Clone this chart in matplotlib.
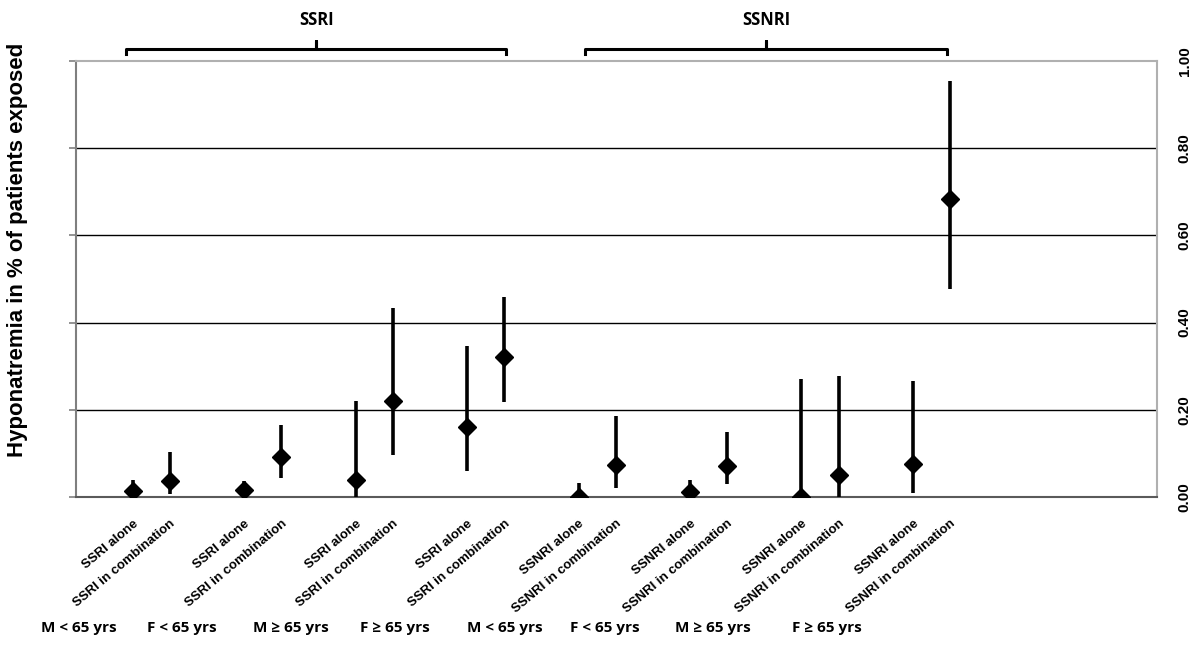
import matplotlib
matplotlib.use("Agg")
import matplotlib.pyplot as plt
import numpy as np

# data (proportion of patients with hyponatremia)
groups = ["M < 65 yrs", "F < 65 yrs", "M \u2265 65 yrs", "F \u2265 65 yrs",
          "M < 65 yrs", "F < 65 yrs", "M \u2265 65 yrs", "F \u2265 65 yrs"]
drugs = ["SSRI", "SSRI", "SSRI", "SSRI", "SSNRI", "SSNRI", "SSNRI", "SSNRI"]

alone_est = [0.014, 0.015, 0.038, 0.160, 0.000, 0.011, 0.000, 0.075]
alone_lo = [0.000, 0.000, 0.000, 0.060, 0.000, 0.000, 0.000, 0.010]
alone_hi = [0.040, 0.037, 0.221, 0.347, 0.033, 0.038, 0.271, 0.265]

combo_est = [0.036, 0.091, 0.221, 0.322, 0.073, 0.072, 0.050, 0.684]
combo_lo = [0.008, 0.044, 0.097, 0.218, 0.021, 0.030, 0.000, 0.477]
combo_hi = [0.103, 0.166, 0.433, 0.458, 0.186, 0.149, 0.278, 0.954]

yticks = [0.0, 0.2, 0.4, 0.6, 0.8, 1.0]

# build the point list: each group has "alone" then "in combination"
xs, est, lo, hi, labels = [], [], [], [], []
for g in range(len(groups)):
    for k, (e, l, h) in enumerate([(alone_est[g], alone_lo[g], alone_hi[g]),
                                   (combo_est[g], combo_lo[g], combo_hi[g])]):
        xs.append(3 * g + 1 + k)
        est.append(e)
        lo.append(l)
        hi.append(h)
        labels.append(drugs[g] + (" alone" if k == 0 else " in combination"))
xs = np.array(xs)
est = np.array(est)
lo = np.array(lo)
hi = np.array(hi)

fig = plt.figure(figsize=(12, 6.45), dpi=100)
ax = fig.add_axes([76/1200, 148/645, 1081/1200, 436/645])

ax.errorbar(xs, est, yerr=[est - lo, hi - est], fmt='D', color='black',
            ms=9.5, elinewidth=2.6, capsize=0, zorder=3)

ax.set_xlim(-0.53, 28.57)
ax.set_ylim(0, 1)
ax.set_yticks(yticks)
ax.set_yticklabels(["%.2f" % v for v in yticks])
for v in yticks[1:-1]:
    ax.axhline(v, color='black', lw=1, zorder=1)

ax.tick_params(axis='y', left=True, right=False, labelleft=False, labelright=True,
               direction='out', length=5, color='#808080', width=1.2, pad=10)
for t in ax.get_yticklabels():
    t.set_rotation(90)
    t.set_fontfamily('Liberation Sans')
    t.set_fontweight('bold')
    t.set_fontsize(11)
    t.set_va('center')

ax.set_xticks(xs)
ax.set_xticklabels(labels, rotation=40, ha='right', va='top', rotation_mode='anchor',
                   fontsize=9.5, fontweight='bold', family='Liberation Sans')
ax.tick_params(axis='x', length=0, pad=15)

ax.spines['left'].set_color('#7f7f7f')
ax.spines['bottom'].set_color('#5a5a5a')
ax.spines['top'].set_color('#b0b0b0')
ax.spines['right'].set_color('#b0b0b0')
for s in ax.spines.values():
    s.set_linewidth(1.5)

# brackets over the drug classes
tr = ax.get_xaxis_transform()
brackets = [("SSRI", 0.82, 11.05), ("SSNRI", 13.17, 22.92)]
for name, x0, x1 in brackets:
    mid = (x0 + x1) / 2
    ax.plot([x0, x0, mid, mid, mid, x1, x1],
            [1.016, 1.028, 1.028, 1.045, 1.028, 1.028, 1.016],
            transform=tr, clip_on=False, color='black', lw=2.2,
            solid_joinstyle='round')
    ax.text(mid, 1.095, name, transform=tr, ha='center', va='center',
            fontsize=12, fontweight='bold', family='Open Sans')

# sex / age group labels under the axis
group_x = [79, 182, 291, 395, 505, 605, 713, 827]
for gx, name in zip(group_x, groups):
    fig.text(gx / 1200, 1 - 628 / 645, name, ha='center', va='center',
             fontsize=11, fontweight='bold', family=['Open Sans', 'DejaVu Sans'])

fig.text(18 / 1200, 1 - 250 / 645, "Hyponatremia in % of patients exposed",
         rotation=90, ha='center', va='center', fontsize=16, fontweight='bold',
         family='Liberation Sans')

fig.savefig("out.png", dpi=100)
